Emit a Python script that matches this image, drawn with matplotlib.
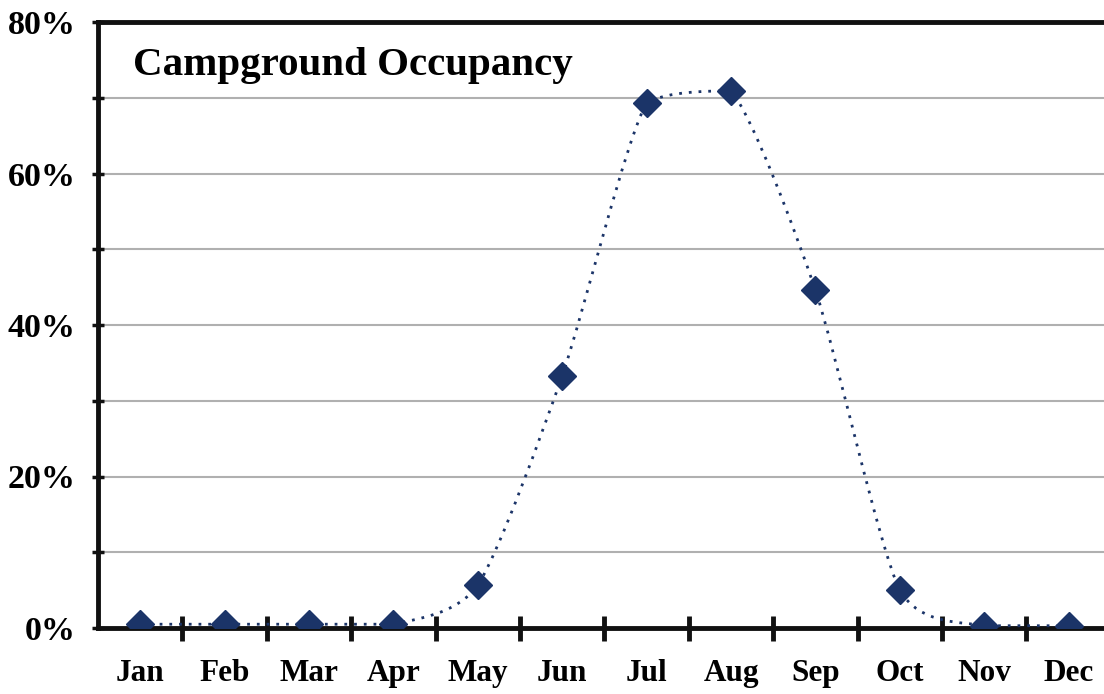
import matplotlib.pyplot as plt
import numpy as np
from matplotlib.path import Path
from matplotlib.patches import PathPatch

# данные
months = ['Jan', 'Feb', 'Mar', 'Apr', 'May', 'Jun',
          'Jul', 'Aug', 'Sep', 'Oct', 'Nov', 'Dec']
occupancy = [0.5, 0.5, 0.5, 0.5, 5.7, 33.3, 69.3, 70.9, 44.6, 5.0, 0.3, 0.3]
y_labels = ['0%', '20%', '40%', '60%', '80%']
title = 'Campground Occupancy'

navy = '#1b3468'


def smooth_path(xs, ys, k=0.12):
    # сглаженная линия через точки (кардинальный сплайн без выбросов)
    xs = np.asarray(xs, float)
    ys = np.asarray(ys, float)
    n = len(xs)
    verts = [(xs[0], ys[0])]
    codes = [Path.MOVETO]
    for i in range(n - 1):
        p0 = max(i - 1, 0)
        p3 = min(i + 2, n - 1)
        lo, hi = min(ys[i], ys[i + 1]), max(ys[i], ys[i + 1])
        c1x = xs[i] + (xs[i + 1] - xs[p0]) * k
        c1y = np.clip(ys[i] + (ys[i + 1] - ys[p0]) * k, lo, hi)
        c2x = xs[i + 1] - (xs[p3] - xs[i]) * k
        c2y = np.clip(ys[i + 1] - (ys[p3] - ys[i]) * k, lo, hi)
        verts += [(c1x, c1y), (c2x, c2y), (xs[i + 1], ys[i + 1])]
        codes += [Path.CURVE4] * 3
    return Path(verts, codes)


plt.rcParams['font.family'] = 'Liberation Serif'
plt.rcParams['font.weight'] = 'bold'

fig = plt.figure(figsize=(11.04, 6.94), dpi=100)
ax = fig.add_axes([98 / 1104, 66 / 694, 1 - 98 / 1104, 606 / 694])

x = np.arange(len(months))
ax.set_xlim(-0.5, -0.5 + (1104 - 98) / 84.4)
ax.set_ylim(0, 80)

# сетка
for g in range(10, 80, 10):
    ax.axhline(g, color='#b0b0b0', linewidth=1.5, zorder=1)

ax.add_patch(PathPatch(smooth_path(x, occupancy), facecolor='none',
                       edgecolor=navy, linewidth=2, linestyle=(0, (1, 2.5)),
                       zorder=3))
ax.plot(x, occupancy, linestyle='none', marker='D', markersize=14,
        color=navy, zorder=4)

# оси
for s in ['left', 'bottom', 'top']:
    ax.spines[s].set_linewidth(3.5)
    ax.spines[s].set_color('#111111')
ax.spines['right'].set_visible(False)

ax.set_xticks(x)
ax.set_xticklabels(months, fontsize=22.5, fontweight='bold')
ax.set_xticks(np.arange(0.5, 11, 1), minor=True)
ax.tick_params(axis='x', which='major', length=0, pad=22)
ax.tick_params(axis='x', which='minor', direction='inout', length=18,
               width=3.5, color='#111111')

ax.set_yticks([0, 20, 40, 60, 80])
ax.set_yticklabels(y_labels, fontsize=24.5, fontweight='bold')
ax.set_yticks(np.arange(10, 80, 20), minor=True)
ax.tick_params(axis='y', which='both', direction='inout', length=8,
               width=2.5, color='#111111', pad=12)

ax.text(0.035, 0.9125, title, transform=ax.transAxes, fontsize=29.5,
        fontweight='bold', va='baseline', ha='left')

fig.savefig('out.png', dpi=100)
